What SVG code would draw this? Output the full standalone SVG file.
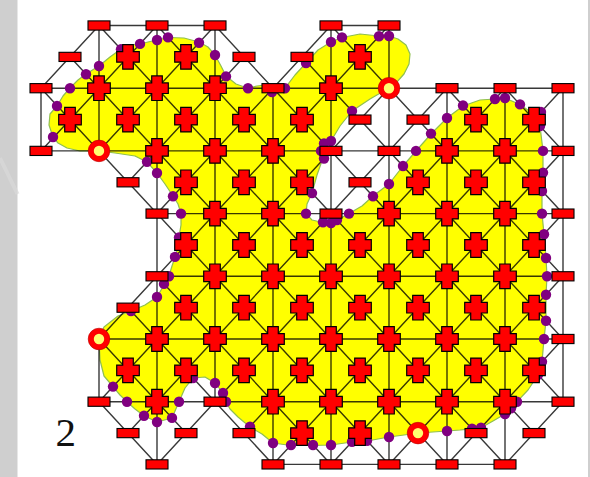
<svg xmlns="http://www.w3.org/2000/svg" xmlns:xlink="http://www.w3.org/1999/xlink" width="590" height="477" viewBox="0 0 590 477">
<style>
.ln{fill:none;stroke:#000;stroke-opacity:.78;stroke-width:1.4;vector-effect:non-scaling-stroke}
.blob{fill:#ff0;stroke:#8fbf50;stroke-width:1.2;stroke-linejoin:round}
.dots circle{fill:#800080}
.lbl{font-family:"Liberation Serif","Times New Roman",serif;font-size:41px;fill:#111}
</style>
<defs>
<rect id="m" x="-11" y="-4.6" width="22" height="9.2" fill="#f00" stroke="#000" stroke-width="1.1"/>
<polygon id="p" points="-5.3,-12.3 5.3,-12.3 5.3,-5.3 11.3,-5.3 11.3,5.3 5.3,5.3 5.3,12.3 -5.3,12.3 -5.3,5.3 -11.3,5.3 -11.3,-5.3 -5.3,-5.3" fill="#f00" stroke="#000" stroke-width="1.2"/>
<g id="o"><circle r="8" fill="#ffff70" stroke="#f00" stroke-width="5.6"/><circle r="10.8" fill="none" stroke="#b00" stroke-width=".6"/></g>
</defs>
<rect width="590" height="477" fill="#fff"/>
<rect x="0" y="0" width="17.5" height="477" fill="#cfcfcf"/>
<line x1="0" y1="158" x2="17.5" y2="194" stroke="#dadada" stroke-width="4" opacity=".7"/>
<rect x="588" y="0" width="2" height="477" fill="#cfcfcf"/>

<path id="region" class="blob" d="M99,151 L80,151 L67,148 L58,143 L53,137 L49,125 L50,114 L57,106 L63,96 L70,88 L78,80 L86,74 L99,66 L110,57 L121,49 L130,45 L140,44 L148,42 L157,40 L168,37.5 L184,38 L199,42 L208,47 L215,55 L221,66 L226,76 L236,84 L248,88.2 L257,86 L265,85 L273,85.5 L280,86 L285,88.2 L295,75 L306,63 L318,50 L331,42 L342,37.5 L360,34 L379,36 L389,36 L398,39 L406,45 L410,54 L409,64 L404,74 L396,83 L389,88 L370,99 L352,111 L340,126 L331,141 L324,144 L321,151 L323,158 L317,175 L312,193 L307,204 L306,213.6 L312,220 L323,222.5 L331,223 L337,220 L349,213.6 L362,206 L373,196 L389,184 L403,166 L416,151 L431,134 L447,118 L463,106 L480,100 L495,99 L505,98 L520,104.5 L532,113 L540,126 L543,151 L543,172 L542,191 L542,213.6 L544,234 L546,258 L547,276 L546,295 L546,321 L544,339 L542,362 L538,375 L528,390 L517,401.7 L511,408 L505,414 L493,421 L481,427.7 L472,428.8 L460,430 L447,431 L433,432 L418,433 L404,435 L389,437 L378,439 L367,441 L352,442 L331,445 L313,445.5 L291,445.5 L273,443 L262,434 L250,427 L238,417 L230,409 L226,401.7 L223,393 L215,383 L205,377 L193,378 L185,388 L179,401.7 L172,418 L157,422 L144,415.7 L135,409 L127,401.7 L120,395 L113,386.6 L104,376 L100,360 L99,339 L104,327 L118,316 L131,311 L145,305 L157,297 L164,285 L169,276 L172,266 L175,257 L178,247 L179,237 L181,225 L181,213.6 L178,204 L173,196 L165,184 L157,173 L147,162 L135,156 L115,153 Z"/>

<g id="connectors" transform="translate(41 25.5) scale(58 62.7)">
<path class="ln" d="M1 0H3M5 0H6M0 1H9M0 2H9M2 3H9M2 4H9M1 5H9M1 6H9M4 7H8"/>
<path class="ln" d="M0 1V2M1 0V2M1 5V6M2 0V7M3 0V6M4 1V7M5 0V7M6 0V7M7 1V7M8 1V7M9 1V6"/>
<path class="ln" d="M.5 .5L1 1M1 0L2 1M2 0L3 1M3 0L4 1M4.5 .5L5 1M5 0L6 1M1 0L0 1M2 0L1 1M3 0L2 1M3.5 .5L3 1M5 0L4 1M6 0L5 1
M0 1L1 2M1 1L2 2M2 1L3 2M3 1L4 2M4 1L5 2M5 1L6 2M6 1L7 2M7 1L8 2M8 1L9 2M1 1L0 2M2 1L1 2M3 1L2 2M4 1L3 2M5 1L4 2M6 1L5 2M7 1L6 2M8 1L7 2M9 1L8 2
M1 2L2 3M2 2L3 3M3 2L4 3M4 2L5 3M5 2L6 3M6 2L7 3M7 2L8 3M8 2L9 3M2 2L1.5 2.5M3 2L2 3M4 2L3 3M5 2L4 3M6 2L5 3M7 2L6 3M8 2L7 3M9 2L8 3
M2 3L3 4M3 3L4 4M4 3L5 4M5 3L6 4M6 3L7 4M7 3L8 4M8 3L9 4M3 3L2 4M4 3L3 4M5 3L4 4M6 3L5 4M7 3L6 4M8 3L7 4M9 3L8 4
M1.5 4.5L2 5M2 4L3 5M3 4L4 5M4 4L5 5M5 4L6 5M6 4L7 5M7 4L8 5M8 4L9 5M2 4L1 5M3 4L2 5M4 4L3 5M5 4L4 5M6 4L5 5M7 4L6 5M8 4L7 5M9 4L8 5
M1 5L2 6M2 5L3 6M3 5L4 6M4 5L5 6M5 5L6 6M6 5L7 6M7 5L8 6M8 5L9 6M2 5L1 6M3 5L2 6M4 5L3 6M5 5L4 6M6 5L5 6M7 5L6 6M8 5L7 6M9 5L8 6
M1 6L2 7M2 6L2.5 6.5M3 6L4 7M4 6L5 7M5 6L6 7M6 6L7 7M7 6L8 7M8 6L8.5 6.5M2 6L1.5 6.5M3 6L2 7M4 6L3.5 6.5M5 6L4 7M6 6L5 7M7 6L6 7M8 6L7 7M9 6L8 7"/>
</g>

<g id="crossing-dots" class="dots">
<circle cx="53" cy="137" r="5.2"/><circle cx="57" cy="106" r="5.2"/><circle cx="70" cy="88.2" r="5.2"/><circle cx="86" cy="74.3" r="5.2"/><circle cx="99" cy="66" r="5.2"/><circle cx="121" cy="49.3" r="5.2"/><circle cx="140" cy="43.9" r="5.2"/><circle cx="157" cy="40" r="5.2"/><circle cx="168" cy="37.4" r="5.2"/><circle cx="199" cy="42.8" r="5.2"/><circle cx="215" cy="55" r="5.2"/><circle cx="226" cy="76.4" r="5.2"/><circle cx="248" cy="88.2" r="5.2"/><circle cx="272" cy="92" r="5.2"/><circle cx="285" cy="88.2" r="5.2"/><circle cx="306" cy="63" r="5.2"/><circle cx="331" cy="42" r="5.2"/><circle cx="342" cy="37.4" r="5.2"/><circle cx="379" cy="36.3" r="5.2"/><circle cx="389" cy="36" r="5.2"/>
<circle cx="352" cy="110.9" r="5.2"/><circle cx="331" cy="141" r="5.2"/><circle cx="324" cy="143.4" r="5.2"/><circle cx="321" cy="150.9" r="5.2"/><circle cx="324" cy="158.5" r="5.2"/><circle cx="312" cy="193.1" r="5.2"/><circle cx="306" cy="213.6" r="5.2"/><circle cx="323" cy="222.3" r="5.2"/><circle cx="331" cy="223" r="5.2"/><circle cx="337" cy="220.1" r="5.2"/><circle cx="349" cy="213.6" r="5.2"/><circle cx="373" cy="196.3" r="5.2"/><circle cx="389" cy="184" r="5.2"/><circle cx="403" cy="166" r="5.2"/><circle cx="416" cy="150.9" r="5.2"/><circle cx="431" cy="133.6" r="5.2"/><circle cx="447" cy="118" r="5.2"/><circle cx="463" cy="105.5" r="5.2"/><circle cx="495" cy="99" r="5.2"/><circle cx="505" cy="98" r="5.2"/><circle cx="520" cy="104.4" r="5.2"/><circle cx="541" cy="112" r="5.2"/><circle cx="540" cy="126.1" r="5.2"/>
<circle cx="543" cy="150.9" r="5.2"/><circle cx="543" cy="172.6" r="5.2"/><circle cx="542" cy="191" r="5.2"/><circle cx="542" cy="213.6" r="5.2"/><circle cx="544" cy="234.2" r="5.2"/><circle cx="546" cy="258" r="5.2"/><circle cx="547" cy="276.3" r="5.2"/><circle cx="546" cy="294.7" r="5.2"/><circle cx="546" cy="320.7" r="5.2"/><circle cx="544" cy="339" r="5.2"/><circle cx="542" cy="361.7" r="5.2"/><circle cx="538" cy="374.7" r="5.2"/><circle cx="517" cy="401.7" r="5.2"/><circle cx="511" cy="408.2" r="5.2"/><circle cx="505" cy="414" r="5.2"/><circle cx="481" cy="427.7" r="5.2"/><circle cx="472" cy="428.7" r="5.2"/><circle cx="447" cy="431" r="5.2"/>
<circle cx="389" cy="437" r="5.2"/><circle cx="367" cy="440.7" r="5.2"/><circle cx="352" cy="441.7" r="5.2"/><circle cx="331" cy="445" r="5.2"/><circle cx="313" cy="445" r="5.2"/><circle cx="291" cy="445" r="5.2"/><circle cx="273" cy="443" r="5.2"/><circle cx="250" cy="426.6" r="5.2"/><circle cx="226" cy="401.7" r="5.2"/><circle cx="223" cy="393" r="5.2"/><circle cx="215" cy="383" r="5.2"/><circle cx="193" cy="378" r="5.2"/><circle cx="179" cy="401.7" r="5.2"/><circle cx="172" cy="417.9" r="5.2"/><circle cx="157" cy="422" r="5.2"/><circle cx="144" cy="415.7" r="5.2"/><circle cx="127" cy="401.7" r="5.2"/><circle cx="113" cy="386.6" r="5.2"/>
<circle cx="131" cy="311" r="5.2"/><circle cx="157" cy="297" r="5.2"/><circle cx="164" cy="283.9" r="5.2"/><circle cx="169" cy="276.3" r="5.2"/><circle cx="175" cy="256.9" r="5.2"/><circle cx="179" cy="237.4" r="5.2"/><circle cx="181" cy="213.6" r="5.2"/><circle cx="173" cy="196.3" r="5.2"/><circle cx="157" cy="173" r="5.2"/><circle cx="147" cy="161.7" r="5.2"/>
</g>

<g id="nodes">
<g id="n1-0"><use href="#m" x="99" y="25.5"/></g>
<g id="n2-0"><use href="#m" x="157" y="25.5"/></g>
<g id="n3-0"><use href="#m" x="215" y="25.5"/></g>
<g id="n5-0"><use href="#m" x="331" y="25.5"/></g>
<g id="n6-0"><use href="#m" x="389" y="25.5"/></g>
<g id="n0-1"><use href="#m" x="41" y="88.2"/></g>
<g id="n1-1"><use href="#p" x="99" y="88.2"/></g>
<g id="n2-1"><use href="#p" x="157" y="88.2"/></g>
<g id="n3-1"><use href="#p" x="215" y="88.2"/></g>
<g id="n4-1"><use href="#m" x="273" y="88.2"/></g>
<g id="n5-1"><use href="#p" x="331" y="88.2"/></g>
<g id="n6-1"><use href="#o" x="389" y="88.2"/></g>
<g id="n7-1"><use href="#m" x="447" y="88.2"/></g>
<g id="n8-1"><use href="#m" x="505" y="88.2"/></g>
<g id="n9-1"><use href="#m" x="563" y="88.2"/></g>
<g id="n0-2"><use href="#m" x="41" y="150.9"/></g>
<g id="n1-2"><use href="#o" x="99" y="150.9"/></g>
<g id="n2-2"><use href="#p" x="157" y="150.9"/></g>
<g id="n3-2"><use href="#p" x="215" y="150.9"/></g>
<g id="n4-2"><use href="#p" x="273" y="150.9"/></g>
<g id="n5-2"><use href="#m" x="331" y="150.9"/></g>
<g id="n6-2"><use href="#m" x="389" y="150.9"/></g>
<g id="n7-2"><use href="#p" x="447" y="150.9"/></g>
<g id="n8-2"><use href="#p" x="505" y="150.9"/></g>
<g id="n9-2"><use href="#m" x="563" y="150.9"/></g>
<g id="n2-3"><use href="#m" x="157" y="213.6"/></g>
<g id="n3-3"><use href="#p" x="215" y="213.6"/></g>
<g id="n4-3"><use href="#p" x="273" y="213.6"/></g>
<g id="n5-3"><use href="#m" x="331" y="213.6"/></g>
<g id="n6-3"><use href="#p" x="389" y="213.6"/></g>
<g id="n7-3"><use href="#p" x="447" y="213.6"/></g>
<g id="n8-3"><use href="#p" x="505" y="213.6"/></g>
<g id="n9-3"><use href="#m" x="563" y="213.6"/></g>
<g id="n2-4"><use href="#m" x="157" y="276.3"/></g>
<g id="n3-4"><use href="#p" x="215" y="276.3"/></g>
<g id="n4-4"><use href="#p" x="273" y="276.3"/></g>
<g id="n5-4"><use href="#p" x="331" y="276.3"/></g>
<g id="n6-4"><use href="#p" x="389" y="276.3"/></g>
<g id="n7-4"><use href="#p" x="447" y="276.3"/></g>
<g id="n8-4"><use href="#p" x="505" y="276.3"/></g>
<g id="n9-4"><use href="#m" x="563" y="276.3"/></g>
<g id="n1-5"><use href="#o" x="99" y="339"/></g>
<g id="n2-5"><use href="#p" x="157" y="339"/></g>
<g id="n3-5"><use href="#p" x="215" y="339"/></g>
<g id="n4-5"><use href="#p" x="273" y="339"/></g>
<g id="n5-5"><use href="#p" x="331" y="339"/></g>
<g id="n6-5"><use href="#p" x="389" y="339"/></g>
<g id="n7-5"><use href="#p" x="447" y="339"/></g>
<g id="n8-5"><use href="#p" x="505" y="339"/></g>
<g id="n9-5"><use href="#m" x="563" y="339"/></g>
<g id="n1-6"><use href="#m" x="99" y="401.7"/></g>
<g id="n2-6"><use href="#p" x="157" y="401.7"/></g>
<g id="n3-6"><use href="#m" x="215" y="401.7"/></g>
<g id="n4-6"><use href="#p" x="273" y="401.7"/></g>
<g id="n5-6"><use href="#p" x="331" y="401.7"/></g>
<g id="n6-6"><use href="#p" x="389" y="401.7"/></g>
<g id="n7-6"><use href="#p" x="447" y="401.7"/></g>
<g id="n8-6"><use href="#p" x="505" y="401.7"/></g>
<g id="n9-6"><use href="#m" x="563" y="401.7"/></g>
<g id="n2-7"><use href="#m" x="157" y="464.4"/></g>
<g id="n4-7"><use href="#m" x="273" y="464.4"/></g>
<g id="n5-7"><use href="#m" x="331" y="464.4"/></g>
<g id="n6-7"><use href="#m" x="389" y="464.4"/></g>
<g id="n7-7"><use href="#m" x="447" y="464.4"/></g>
<g id="n8-7"><use href="#m" x="505" y="464.4"/></g>

<g id="c0-0"><use href="#m" x="70" y="56.9"/></g>
<g id="c1-0"><use href="#p" x="128" y="56.9"/></g>
<g id="c2-0"><use href="#p" x="186" y="56.9"/></g>
<g id="c3-0"><use href="#m" x="244" y="56.9"/></g>
<g id="c4-0"><use href="#m" x="302" y="56.9"/></g>
<g id="c5-0"><use href="#p" x="360" y="56.9"/></g>
<g id="c0-1"><use href="#p" x="70" y="119.6"/></g>
<g id="c1-1"><use href="#p" x="128" y="119.6"/></g>
<g id="c2-1"><use href="#p" x="186" y="119.6"/></g>
<g id="c3-1"><use href="#p" x="244" y="119.6"/></g>
<g id="c4-1"><use href="#p" x="302" y="119.6"/></g>
<g id="c5-1"><use href="#m" x="360" y="119.6"/></g>
<g id="c6-1"><use href="#m" x="418" y="119.6"/></g>
<g id="c7-1"><use href="#p" x="476" y="119.6"/></g>
<g id="c8-1"><use href="#p" x="534" y="119.6"/></g>
<g id="c1-2"><use href="#m" x="128" y="182.3"/></g>
<g id="c2-2"><use href="#p" x="186" y="182.3"/></g>
<g id="c3-2"><use href="#p" x="244" y="182.3"/></g>
<g id="c4-2"><use href="#p" x="302" y="182.3"/></g>
<g id="c5-2"><use href="#m" x="360" y="182.3"/></g>
<g id="c6-2"><use href="#p" x="418" y="182.3"/></g>
<g id="c7-2"><use href="#p" x="476" y="182.3"/></g>
<g id="c8-2"><use href="#p" x="534" y="182.3"/></g>
<g id="c2-3"><use href="#p" x="186" y="245"/></g>
<g id="c3-3"><use href="#p" x="244" y="245"/></g>
<g id="c4-3"><use href="#p" x="302" y="245"/></g>
<g id="c5-3"><use href="#p" x="360" y="245"/></g>
<g id="c6-3"><use href="#p" x="418" y="245"/></g>
<g id="c7-3"><use href="#p" x="476" y="245"/></g>
<g id="c8-3"><use href="#p" x="534" y="245"/></g>
<g id="c1-4"><use href="#m" x="128" y="307.7"/></g>
<g id="c2-4"><use href="#p" x="186" y="307.7"/></g>
<g id="c3-4"><use href="#p" x="244" y="307.7"/></g>
<g id="c4-4"><use href="#p" x="302" y="307.7"/></g>
<g id="c5-4"><use href="#p" x="360" y="307.7"/></g>
<g id="c6-4"><use href="#p" x="418" y="307.7"/></g>
<g id="c7-4"><use href="#p" x="476" y="307.7"/></g>
<g id="c8-4"><use href="#p" x="534" y="307.7"/></g>
<g id="c1-5"><use href="#p" x="128" y="370.4"/></g>
<g id="c2-5"><use href="#p" x="186" y="370.4"/></g>
<g id="c3-5"><use href="#p" x="244" y="370.4"/></g>
<g id="c4-5"><use href="#p" x="302" y="370.4"/></g>
<g id="c5-5"><use href="#p" x="360" y="370.4"/></g>
<g id="c6-5"><use href="#p" x="418" y="370.4"/></g>
<g id="c7-5"><use href="#p" x="476" y="370.4"/></g>
<g id="c8-5"><use href="#p" x="534" y="370.4"/></g>
<g id="c1-6"><use href="#m" x="128" y="433.1"/></g>
<g id="c2-6"><use href="#m" x="186" y="433.1"/></g>
<g id="c3-6"><use href="#m" x="244" y="433.1"/></g>
<g id="c4-6"><use href="#p" x="302" y="433.1"/></g>
<g id="c5-6"><use href="#p" x="360" y="433.1"/></g>
<g id="c6-6"><use href="#o" x="418" y="433.1"/></g>
<g id="c7-6"><use href="#m" x="476" y="433.1"/></g>
<g id="c8-6"><use href="#m" x="534" y="433.1"/></g>
</g>

<text class="lbl" x="55.5" y="446">2</text>
</svg>
